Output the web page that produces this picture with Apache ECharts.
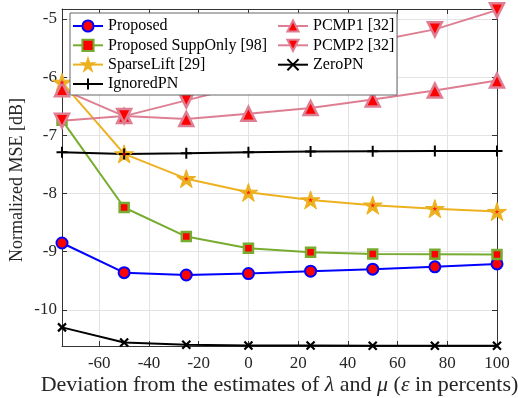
<!DOCTYPE html>
<html>
<head>
<meta charset="utf-8">
<script src="https://cdn.jsdelivr.net/npm/echarts@6/dist/echarts.min.js"></script>
<style>html,body{margin:0;padding:0;background:#fff}#c{width:518px;height:398px}</style>
</head>
<body>
<div id="c"></div>
<script>
// ---- data ----
const xValues = [-75, -50, -25, 0, 25, 50, 75, 100];
const proposed   = [-8.85, -9.36, -9.40, -9.375, -9.335, -9.30, -9.26, -9.21];
const suppOnly   = [-6.74, -8.24, -8.74, -8.94, -9.01, -9.04, -9.045, -9.05];
const sparseLift = [-6.09, -7.32, -7.745, -7.98, -8.11, -8.20, -8.26, -8.31];
const ignoredPN  = [-7.29, -7.32, -7.31, -7.29, -7.28, -7.275, -7.27, -7.27];
const zeroPN     = [-10.30, -10.56, -10.60, -10.61, -10.61, -10.615, -10.615, -10.615];
const pcmp1      = [-6.21, -6.67, -6.72, -6.63, -6.53, -6.385, -6.23, -6.06];
const pcmp2      = [-6.75, -6.67, -6.40, -6.13, -5.78, -5.39, -5.18, -4.85];
const xTicks = [-60, -40, -20, 0, 20, 40, 60, 80, 100];
const yTicks = [-10, -9, -8, -7, -6, -5];
const names = ['Proposed', 'Proposed SuppOnly [98]', 'SparseLift [29]', 'IgnoredPN', 'PCMP1 [32]', 'PCMP2 [32]', 'ZeroPN'];

const pair = arr => xValues.map((x, i) => [x, arr[i]]);
const FONT = 'Liberation Serif';
const RED = '#FF0000';
const PINK = '#DE7E93';
const starPath = 'path://M0,-1L0.2245,-0.309L0.951,-0.309L0.363,0.118L0.588,0.809L0,0.382L-0.588,0.809L-0.363,0.118L-0.951,-0.309L-0.2245,-0.309Z';
const plusPath = 'path://M0,-1L0,1M-1,0L1,0';
const crossPath = 'path://M-1,-1L1,1M-1,1L1,-1';

function lineSeries(name, data, color, symbol, size, fill, bw, extra) {
  return Object.assign({
    name: name, type: 'line', data: pair(data), symbol: symbol, symbolSize: size,
    symbolKeepAspect: true, showSymbol: true,
    lineStyle: { color: color, width: 2 },
    itemStyle: { color: fill, borderColor: color, borderWidth: bw },
    emphasis: { disabled: true }, animation: false, z: 2
  }, extra || {});
}

const series = [
  lineSeries(names[0], proposed, '#0000FF', 'circle', 11, RED, 2),
  lineSeries(names[1], suppOnly, '#77AC30', 'rect', 9, RED, 2.5),
  lineSeries(names[2], sparseLift, '#EDB120', starPath, 19, '#EDB120', 1),
  lineSeries(names[3], ignoredPN, '#000000', plusPath, 11, 'none', 2),
  lineSeries(names[4], pcmp1, PINK, 'triangle', 14, RED, 2.5),
  lineSeries(names[5], pcmp2, PINK, 'triangle', 14, RED, 2.5, { symbolRotate: 180 }),
  lineSeries(names[6], zeroPN, '#000000', crossPath, 8, 'none', 2.2),
  // red centers of stars (not in legend)
  { type: 'scatter', data: pair(sparseLift), symbol: starPath, symbolSize: 5, symbolKeepAspect: true,
    itemStyle: { color: RED }, silent: true, animation: false, z: 3 }
];

const tickStyle = vals => ({ show: true, inside: true, length: 5, lineStyle: { color: '#333' }, customValues: vals });
const axisCommon = {
  type: 'value',
  axisLine: { show: true, onZero: false, lineStyle: { color: '#333', width: 1 } },
  splitLine: { show: false },
  axisLabel: { show: false }
};

const option = {
  backgroundColor: '#fff',
  animation: false,
  grid: { left: 62, right: 21, top: 9, bottom: 52, show: false },
  xAxis: [
    Object.assign({}, axisCommon, {
      min: -75, max: 100, position: 'bottom', axisTick: tickStyle(xTicks),
      axisLabel: { show: true, customValues: xTicks, color: '#262626', fontFamily: FONT, fontSize: 17, margin: 9 },
      splitLine: { show: true, lineStyle: { color: '#E3E3E3', width: 1 } }
    }),
    Object.assign({}, axisCommon, {
      min: -75, max: 100, position: 'top', axisTick: tickStyle(xTicks)
    })
  ],
  yAxis: [
    Object.assign({}, axisCommon, {
      min: -10.62, max: -4.83, position: 'left', axisTick: tickStyle(yTicks),
      axisLabel: { show: true, customValues: yTicks, color: '#262626', fontFamily: FONT, fontSize: 17, margin: 5 },
      splitLine: { show: true, lineStyle: { color: '#E3E3E3', width: 1 } }
    }),
    Object.assign({}, axisCommon, {
      min: -10.62, max: -4.83, position: 'right', axisTick: tickStyle(yTicks)
    })
  ],
  legend: [
    { data: names.slice(0, 4), orient: 'vertical', left: 72, top: 18, itemWidth: 30, itemHeight: 14, itemGap: 3.3,
      padding: 0, textStyle: { fontFamily: FONT, fontSize: 16, color: '#000' }, selectedMode: false, z: 5 },
    { data: names.slice(4), orient: 'vertical', left: 277, top: 18, itemWidth: 30, itemHeight: 14, itemGap: 3.3,
      padding: 0, textStyle: { fontFamily: FONT, fontSize: 16, color: '#000' }, selectedMode: false, z: 5 }
  ],
  graphic: [
    { type: 'rect', z: 4, shape: { x: 70, y: 13, width: 327, height: 82 },
      style: { fill: '#fff', stroke: '#666', lineWidth: 1 } },
    { type: 'text', x: 17, y: 180, rotation: Math.PI / 2,
      style: { text: 'Normalized MSE [dB]', font: '18px "Liberation Serif"', fill: '#262626', align: 'center', verticalAlign: 'middle' } },
    { type: 'text', x: 279.5, y: 385,
      style: {
        text: '{n|Deviation from the estimates of }{i|λ}{n| and }{i|μ}{n| (}{i|ε}{n| in percents)}',
        align: 'center', verticalAlign: 'middle', fill: '#262626',
        rich: {
          n: { fontFamily: FONT, fontSize: 22, fill: '#262626' },
          i: { fontFamily: FONT, fontSize: 22, fontStyle: 'italic', fill: '#262626' }
        }
      } }
  ],
  series: series
};

const chart = echarts.init(document.getElementById('c'), null, { renderer: 'canvas' });
chart.setOption(option);
</script>
</body>
</html>
